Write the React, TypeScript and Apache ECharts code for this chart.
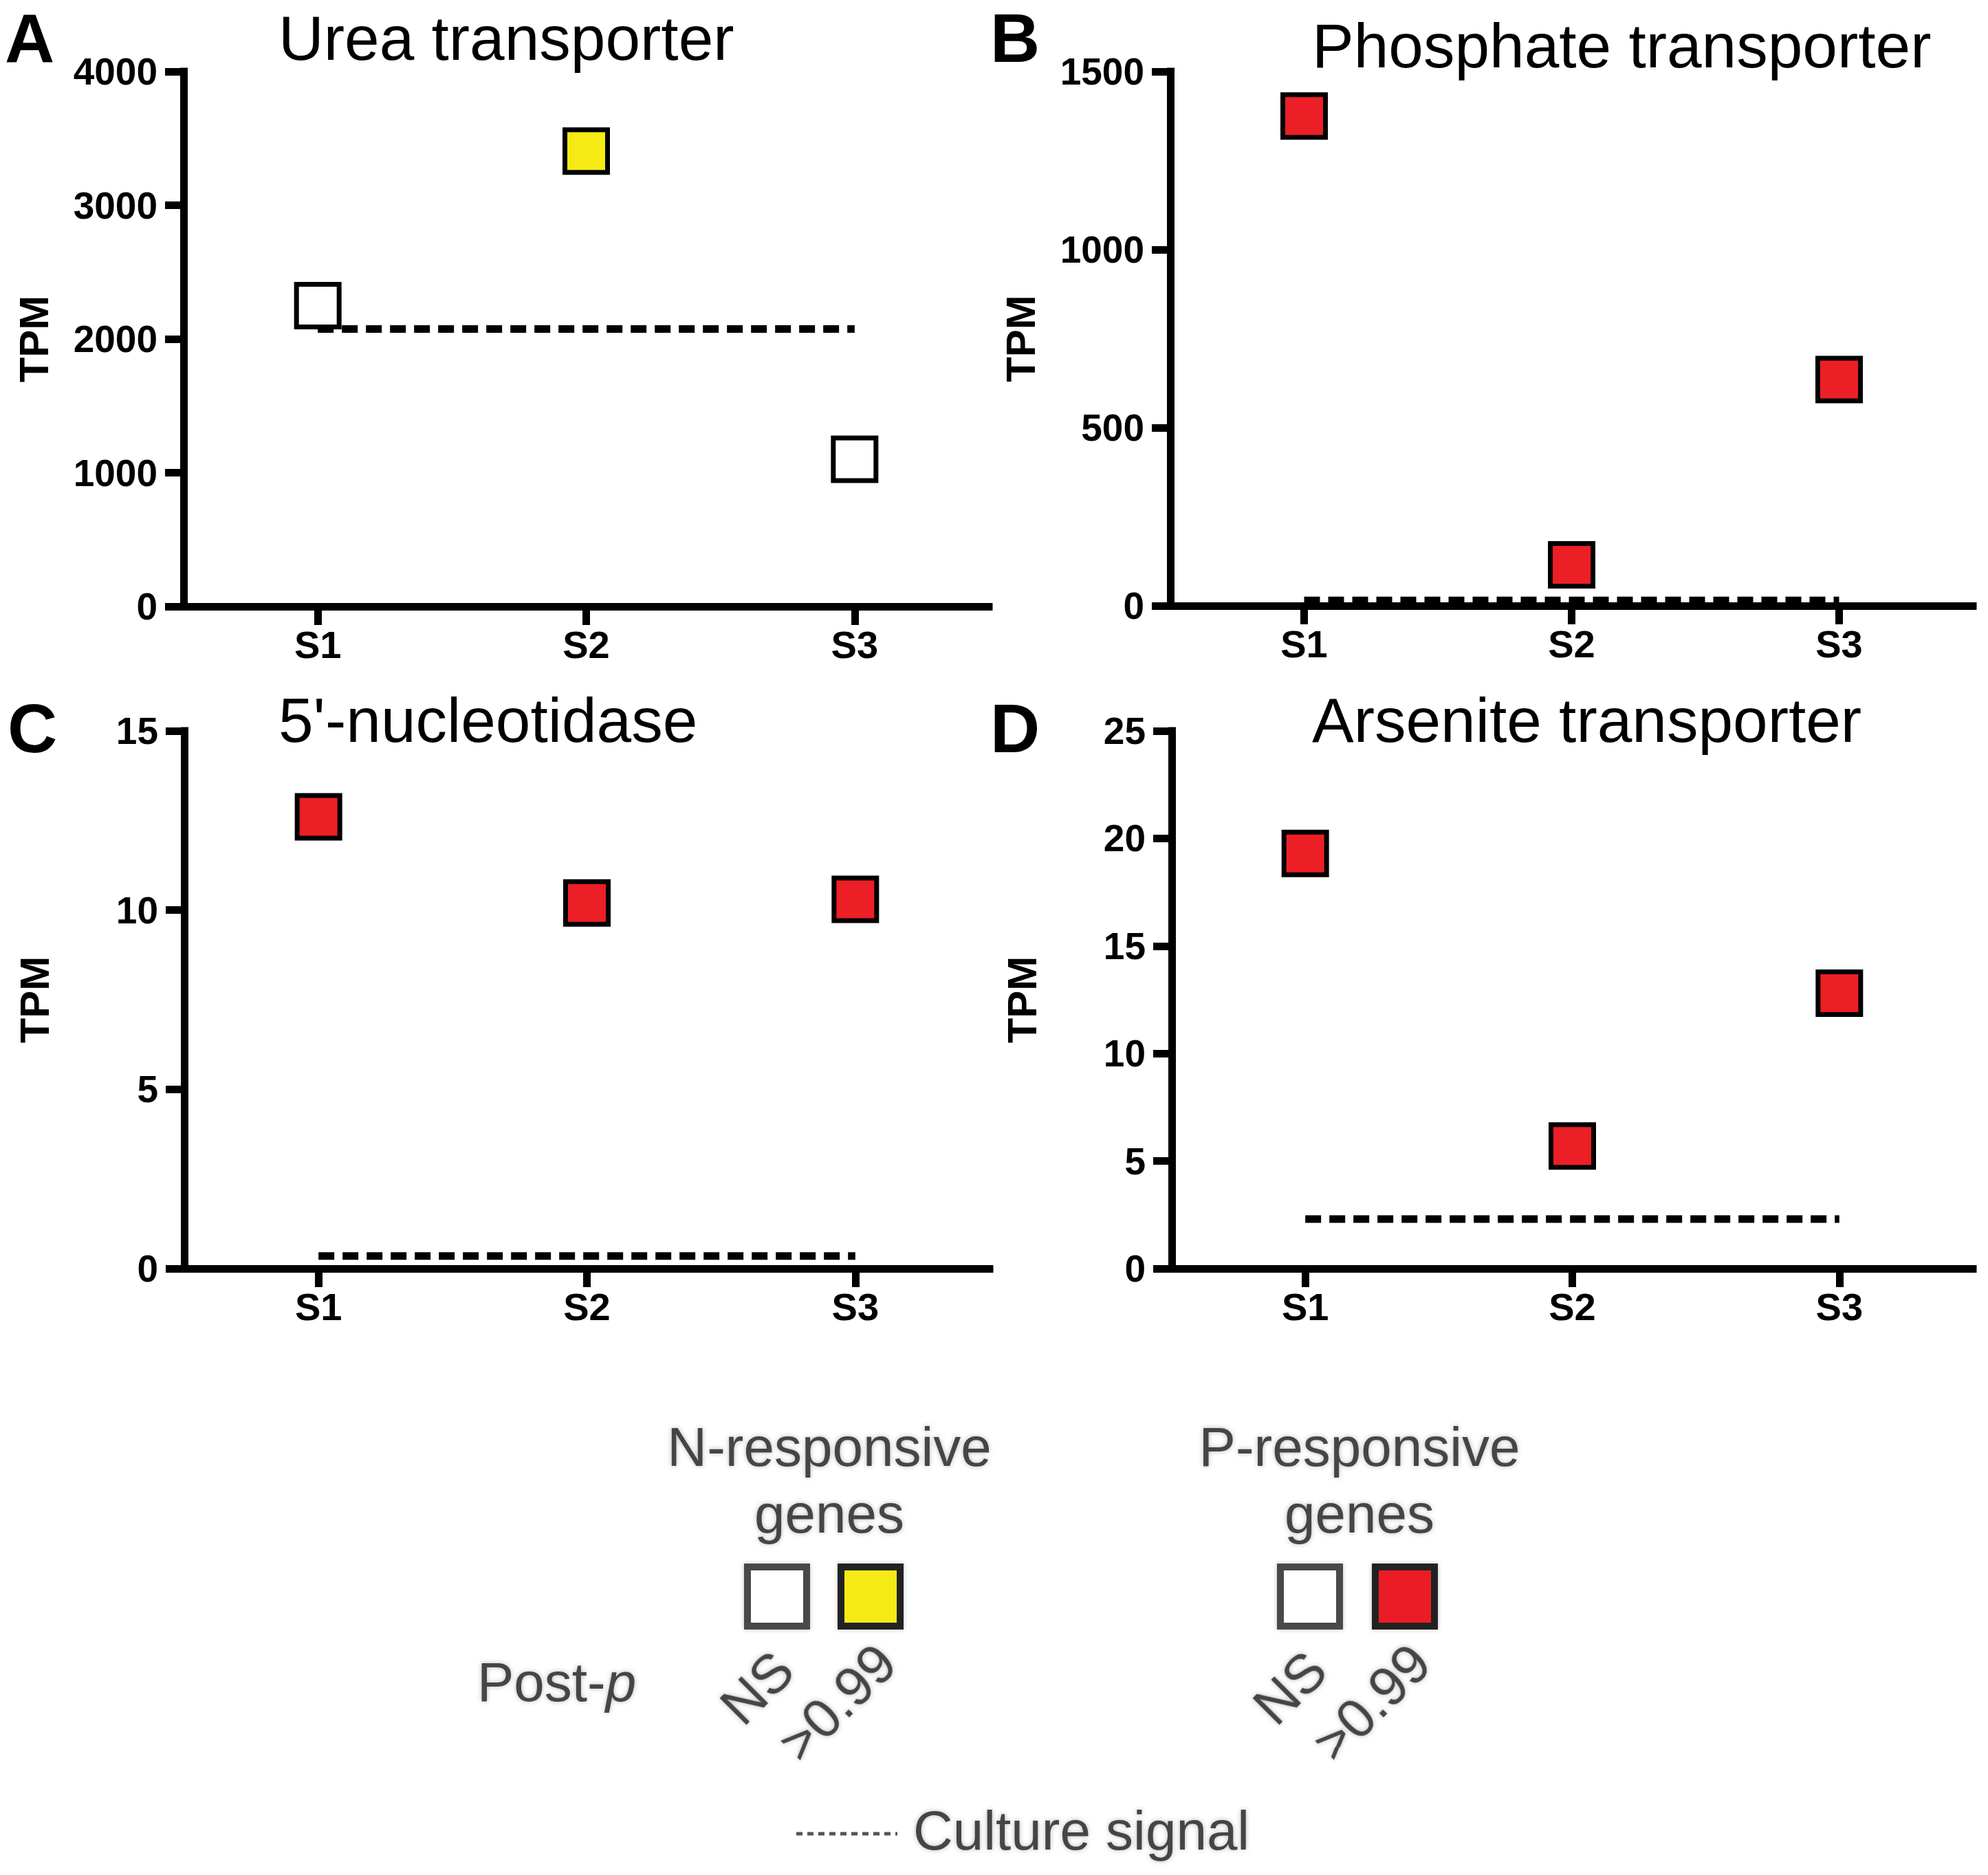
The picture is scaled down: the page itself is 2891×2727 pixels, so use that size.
import React, { useEffect, useRef } from "react";
import * as echarts from "echarts";

// ---------- data ----------
const categories = ["S1", "S2", "S3"];
const ureaTPM = [2250, 3405, 1100];
const ureaCall = ["NS", ">0.99", "NS"];
const phosphateTPM = [1375, 115, 635];
const phosphateCall = [">0.99", ">0.99", ">0.99"];
const nucleotidaseTPM = [12.6, 10.2, 10.3];
const nucleotidaseCall = [">0.99", ">0.99", ">0.99"];
const arseniteTPM = [19.3, 5.7, 12.8];
const arseniteCall = [">0.99", ">0.99", ">0.99"];
// culture signal (dashed line) per panel A, B, C, D
const cultureSignal = [2075, 15, 0.35, 2.3];
const panelTitles = ["Urea transporter", "Phosphate transporter", "5'-nucleotidase", "Arsenite transporter"];
const panelLetters = ["A", "B", "C", "D"];
const yMax = [4000, 1500, 15, 25];
const yInterval = [1000, 500, 5, 5];
const responseGroup = ["N", "P", "P", "P"]; // N-responsive (yellow) or P-responsive (red)

const FONT = "'Liberation Sans', Arial, Helvetica, sans-serif";
const YELLOW = "#F5EA14";
const RED = "#EC1F26";

const grids = [
  { left: 267, top: 104, width: 1171, height: 778 },
  { left: 1702, top: 104, width: 1167, height: 777 },
  { left: 268, top: 1063, width: 1171, height: 782 },
  { left: 1704, top: 1063, width: 1165, height: 782 },
];

const titlePos = [
  { x: 405, y: 55 },
  { x: 1908, y: 66 },
  { x: 405, y: 1047 },
  { x: 1908, y: 1047 },
];
const letterPos = [
  { x: 7, y: 56 },
  { x: 1440, y: 55 },
  { x: 11, y: 1059 },
  { x: 1440, y: 1059 },
];

const App: React.FC = () => {
  const ref = useRef<HTMLDivElement>(null);

  useEffect(() => {
    if (!ref.current) return;
    const chart = echarts.init(ref.current, undefined, { renderer: "svg" });

    const values = [ureaTPM, phosphateTPM, nucleotidaseTPM, arseniteTPM];
    const calls = [ureaCall, phosphateCall, nucleotidaseCall, arseniteCall];

    const axisLineStyle = { color: "#000", width: 11, cap: "square" as const };

    const xAxis = grids.map((_, i) => ({
      type: "category" as const,
      gridIndex: i,
      data: categories,
      boundaryGap: true,
      axisLine: { show: true, onZero: false, lineStyle: axisLineStyle },
      axisTick: { show: true, alignWithLabel: true, length: 27, lineStyle: { color: "#000", width: 11 } },
      axisLabel: { fontSize: 56, fontWeight: "bold" as const, color: "#000", margin: 27, fontFamily: FONT },
      splitLine: { show: false },
    }));

    const yAxis = grids.map((_, i) => ({
      type: "value" as const,
      gridIndex: i,
      min: 0,
      max: yMax[i],
      interval: yInterval[i],
      axisLine: { show: true, lineStyle: axisLineStyle },
      axisTick: { show: true, length: 27, lineStyle: { color: "#000", width: 11 } },
      axisLabel: {
        fontSize: 55,
        fontWeight: "bold" as const,
        color: "#000",
        margin: 38,
        fontFamily: FONT,
        formatter: (v: number) => String(v),
      },
      splitLine: { show: false },
      name: "TPM",
      nameLocation: "middle" as const,
      nameGap: 188,
      nameTextStyle: { fontSize: 60, fontWeight: "bold" as const, color: "#000", fontFamily: FONT },
    }));

    const series: any[] = [];
    grids.forEach((_, i) => {
      series.push({
        type: "line",
        xAxisIndex: i,
        yAxisIndex: i,
        data: categories.map(() => cultureSignal[i]),
        symbol: "none",
        z: 2,
        lineStyle: { color: "#000", width: 11, type: [23, 12], opacity: 1 },
        silent: true,
      });
      series.push({
        type: "scatter",
        xAxisIndex: i,
        yAxisIndex: i,
        symbol: "rect",
        symbolSize: 62,
        z: 3,
        itemStyle: { opacity: 1 },
        data: values[i].map((v, k) => ({
          value: v,
          itemStyle: {
            color: calls[i][k] === "NS" ? "#ffffff" : responseGroup[i] === "N" ? YELLOW : RED,
            borderColor: "#000",
            borderWidth: 7,
            opacity: 1,
          },
        })),
      });
    });

    const legendText = { fill: "#454545", font: `80px ${FONT}`, textShadowColor: "rgba(0,0,0,0.28)", textShadowBlur: 7 };

    const graphic: any[] = [];
    panelTitles.forEach((t, i) => {
      graphic.push({
        type: "text",
        x: titlePos[i].x,
        y: titlePos[i].y,
        style: { text: t, fill: "#000", font: `91px ${FONT}`, align: "left", verticalAlign: "middle" },
      });
      graphic.push({
        type: "text",
        x: letterPos[i].x,
        y: letterPos[i].y,
        style: {
          text: panelLetters[i],
          fill: "#000",
          font: `bold 100px ${FONT}`,
          lineHeight: 100,
          align: "left",
          verticalAlign: "middle",
        },
      });
    });

    // legend blocks
    const legendGroups = [
      { head: "N-responsive", cx: 1206, nsX: 1130, sigX: 1266, color: YELLOW },
      { head: "P-responsive", cx: 1977, nsX: 1905, sigX: 2043, color: RED },
    ];
    legendGroups.forEach((g) => {
      graphic.push({ type: "text", x: g.cx, y: 2104, style: { ...legendText, text: g.head, align: "center", verticalAlign: "middle" } });
      graphic.push({ type: "text", x: g.cx, y: 2201, style: { ...legendText, text: "genes", align: "center", verticalAlign: "middle" } });
      graphic.push({
        type: "rect",
        shape: { x: g.nsX - 43, y: 2322 - 43, width: 86, height: 86 },
        style: { fill: "#fff", stroke: "#4a4a4a", lineWidth: 10, shadowColor: "rgba(0,0,0,0.25)", shadowBlur: 6 },
      });
      graphic.push({
        type: "rect",
        shape: { x: g.sigX - 43, y: 2322 - 43, width: 86, height: 86 },
        style: { fill: g.color, stroke: "#222", lineWidth: 10, shadowColor: "rgba(0,0,0,0.25)", shadowBlur: 6 },
      });
      graphic.push({
        type: "text",
        x: g.nsX - 29,
        y: 2455,
        rotation: Math.PI / 4,
        style: { ...legendText, font: `80px ${FONT}`, text: "NS", align: "center", verticalAlign: "middle" },
      });
      graphic.push({
        type: "text",
        x: g.sigX - 49,
        y: 2476,
        rotation: Math.PI / 4,
        style: { ...legendText, font: `80px ${FONT}`, text: ">0.99", align: "center", verticalAlign: "middle" },
      });
    });
    graphic.push({
      type: "text",
      x: 694,
      y: 2446,
      style: {
        ...legendText,
        text: "Post-{i|p}",
        align: "left",
        verticalAlign: "middle",
        rich: { i: { fontStyle: "italic", fontSize: 80, fontFamily: FONT, fill: "#454545" } },
      },
    });
    graphic.push({
      type: "line",
      shape: { x1: 1158, y1: 2667, x2: 1305, y2: 2667 },
      style: { stroke: "#555", lineWidth: 5, lineDash: [9, 7] },
    });
    graphic.push({
      type: "text",
      x: 1328,
      y: 2662,
      style: { ...legendText, text: "Culture signal", align: "left", verticalAlign: "middle" },
    });

    chart.setOption({
      animation: false,
      backgroundColor: "#ffffff",
      textStyle: { fontFamily: FONT },
      grid: grids.map((g) => ({ ...g, containLabel: false, outerBoundsMode: "none" })),
      xAxis,
      yAxis,
      series,
      graphic,
    });

    return () => chart.dispose();
  }, []);

  return (
    <div
      ref={ref}
      style={{ position: "absolute", left: 0, top: 0, width: 2891, height: 2727, background: "#fff" }}
    />
  );
};

export default App;
